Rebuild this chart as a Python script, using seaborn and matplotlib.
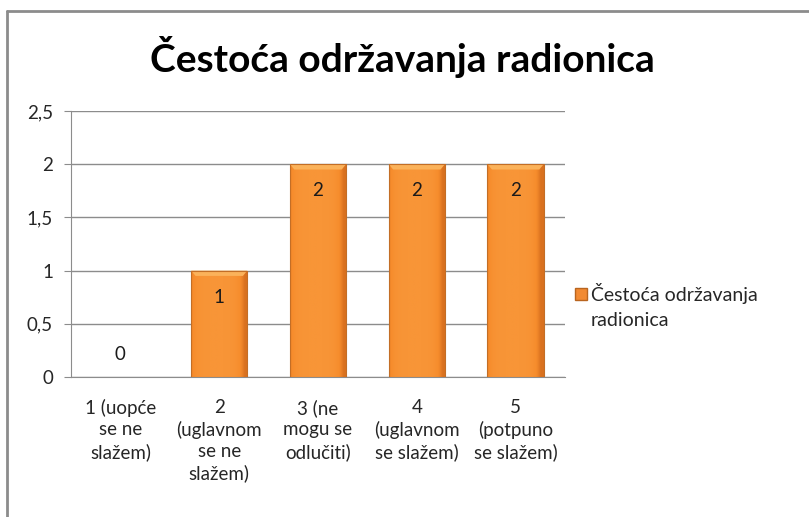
import numpy as np
import pandas as pd
import seaborn as sns
import matplotlib.pyplot as plt
from matplotlib.patches import Polygon, Rectangle
from matplotlib.lines import Line2D

# datos
kategorije = ["1 (uopće\nse ne\nslažem)", "2\n(uglavnom\nse ne\nslažem)",
              "3 (ne\nmogu se\nodlučiti)", "4\n(uglavnom\nse slažem)",
              "5\n(potpuno\nse slažem)"]
vrijednosti = [0, 1, 2, 2, 2]
y_ticks = [0, 0.5, 1, 1.5, 2, 2.5]
y_labels = ["0", "0,5", "1", "1,5", "2", "2,5"]
naslov = "Čestoća održavanja radionica"
serija = ["Čestoća održavanja", "radionica"]

df = pd.DataFrame({"kategorija": kategorije, "vrijednost": vrijednosti})

sns.set_style("white")
plt.rcParams["font.family"] = ["Lato", "DejaVu Sans"]

fig = plt.figure(figsize=(8.09, 5.17), dpi=100)
ax = fig.add_axes([0.0878, 0.2708, 0.6106, 0.5145])

sns.barplot(data=df, x="kategorija", y="vrijednost", color="#F7922F",
            width=0.57, ax=ax, zorder=3, linewidth=0)

# gradijent na stupcima
grad = np.linspace(0, 1, 64)
prof = 1 - (2 * np.abs(grad - 0.45)) ** 4
cmap = sns.blend_palette(["#D9711F", "#F68C2C", "#F89537"], as_cmap=True)
for p in ax.patches:
    x0, w, h = p.get_x(), p.get_width(), p.get_height()
    if h <= 0:
        continue
    im = ax.imshow(prof[np.newaxis, :], cmap=cmap, aspect="auto",
                   extent=[x0, x0 + w, 0, h], zorder=4, vmin=0, vmax=1)
    im.set_clip_path(p)
    bev = 0.05
    dx = w * 0.08
    ax.add_patch(Polygon([[x0, h], [x0 + w, h], [x0 + w - dx, h - bev],
                          [x0 + dx, h - bev]], closed=True,
                         facecolor="#FBB25A", edgecolor="none", zorder=5))
    ax.add_patch(Rectangle((x0, 0), w, h, facecolor="none",
                           edgecolor="#C36E26", linewidth=0.8, zorder=6))

ax.set_xlim(-0.5, 4.5)
ax.set_ylim(0, 2.5)

# oznake vrijednosti
for i, v in enumerate(vrijednosti):
    ypos = v - 0.25 if v > 0 else 0.21
    ax.text(i, ypos, str(v), ha="center", va="center", fontsize=13.5,
            color="#1a1a1a", zorder=7)

ax.set_yticks(y_ticks)
ax.set_yticklabels(y_labels, fontsize=13.5, color="#262626")
ax.set_xticks(range(len(kategorije)))
ax.set_xticklabels(kategorije, fontsize=13.5, color="#262626",
                   linespacing=1.3)
ax.set_xlabel("")
ax.set_ylabel("")
ax.yaxis.grid(True, color="#8C8C8C", linewidth=1, zorder=0)
ax.set_axisbelow(True)
for s in ["top", "right"]:
    ax.spines[s].set_visible(False)
ax.spines["left"].set_color("#8C8C8C")
ax.spines["bottom"].set_color("#8C8C8C")
ax.tick_params(axis="y", length=5, color="#8C8C8C", pad=8, left=True)
ax.tick_params(axis="x", length=0, pad=16)

fig.text(0.497, 0.89, naslov, ha="center", va="center", fontsize=28,
         fontweight="bold", color="black")

# legenda: marker uz prvi red, drugi red ispod
handle = Line2D([], [], marker="s", linestyle="none", markersize=9,
                markerfacecolor="#F28A32", markeredgecolor="#B9651F")
leg = fig.legend([handle], [serija[0]], loc="center left",
                 bbox_to_anchor=(0.709, 1 - 293 / 517), frameon=False,
                 fontsize=14, handletextpad=0.1, handlelength=0.8,
                 borderaxespad=0, borderpad=0, labelcolor="#262626")
fig.canvas.draw()
bb = leg.get_texts()[0].get_window_extent().transformed(fig.transFigure.inverted())
fig.text(bb.x0, 1 - 321 / 517, serija[1], ha="left", va="center",
         fontsize=14, color="#262626")

# okvir grafikona (vidljivi samo gornji i lijevi rub)
fig.add_artist(Line2D([0.0086, 1.0], [0.979, 0.979], transform=fig.transFigure,
                      color="#8C8C8C", linewidth=2))
fig.add_artist(Line2D([0.0086, 0.0086], [0.0, 0.979], transform=fig.transFigure,
                      color="#8C8C8C", linewidth=2))

fig.savefig("out.png", dpi=100)
